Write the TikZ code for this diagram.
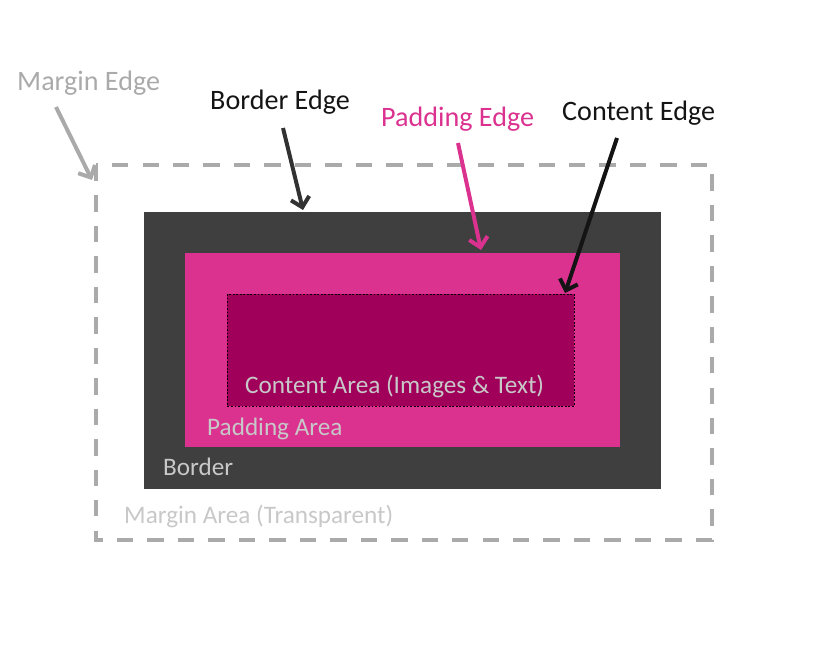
\documentclass[tikz,border=0pt]{standalone}
\usepackage{fontspec}
\setmainfont{Carlito}
\usetikzlibrary{arrows.meta}
\definecolor{margingray}{RGB}{170,170,170}
\definecolor{borderdark}{RGB}{63,63,63}
\definecolor{paddingpink}{RGB}{219,50,144}
\definecolor{contentplum}{RGB}{160,0,90}
\definecolor{labelgray}{RGB}{200,200,200}
\definecolor{edgeblack}{RGB}{20,20,20}

\begin{document}
\begin{tikzpicture}[x=0.03cm,y=-0.03cm,
  edgelbl/.style={font=\fontsize{24}{29}\selectfont,anchor=base west,inner sep=0pt},
  arealbl/.style={font=\fontsize{21.5}{26}\selectfont,text=labelgray,anchor=base west,inner sep=0pt},
  pointer/.style={line width=3.4pt,-{Straight Barb[length=8pt,width=16pt]}}]
  \useasboundingbox (0,0) rectangle (814,654);
  % the nested boxes
  \draw[margingray,line width=2.6pt,dash pattern=on 14pt off 12pt] (96,165) rectangle (712,540);
  \fill[borderdark] (144,212) rectangle (661,489);
  \fill[paddingpink] (185,253) rectangle (620,447);
  \draw[fill=contentplum,draw=black,line width=0.5pt,dash pattern=on 1.5pt off 1.5pt] (227,294) rectangle (574,406);
  % labels
  \node[edgelbl,text=margingray] (marginedge) at (17,91) {Margin Edge};
  \node[edgelbl,text=edgeblack] (borderedge) at (210,110) {Border Edge};
  \node[edgelbl,text=paddingpink] (paddingedge) at (381,127) {Padding Edge};
  \node[edgelbl,text=edgeblack] (contentedge) at (562,121) {Content Edge};
  \node[arealbl] (contentarea) at (245,393) {Content Area (Images \& Text)};
  \node[arealbl] (paddingarea) at (207,435) {Padding Area};
  \node[arealbl] (borderarea) at (163,475) {Border};
  \node[arealbl] (marginarea) at (124,523) {Margin Area (Transparent)};
  % pointers
  \coordinate (m0) at (56,107);  \coordinate (m1) at (92,180);
  \coordinate (b0) at (283,128); \coordinate (b1) at (303,210);
  \coordinate (p0) at (458,143); \coordinate (p1) at (481,250);
  \coordinate (c0) at (617,138); \coordinate (c1) at (565,293);
  \draw[pointer,margingray] (m0) -- (m1);
  \draw[pointer,borderdark!80!black] (b0) -- (b1);
  \draw[pointer,paddingpink] (p0) -- (p1);
  \draw[pointer,edgeblack] (c0) -- (c1);
\end{tikzpicture}
\end{document}
